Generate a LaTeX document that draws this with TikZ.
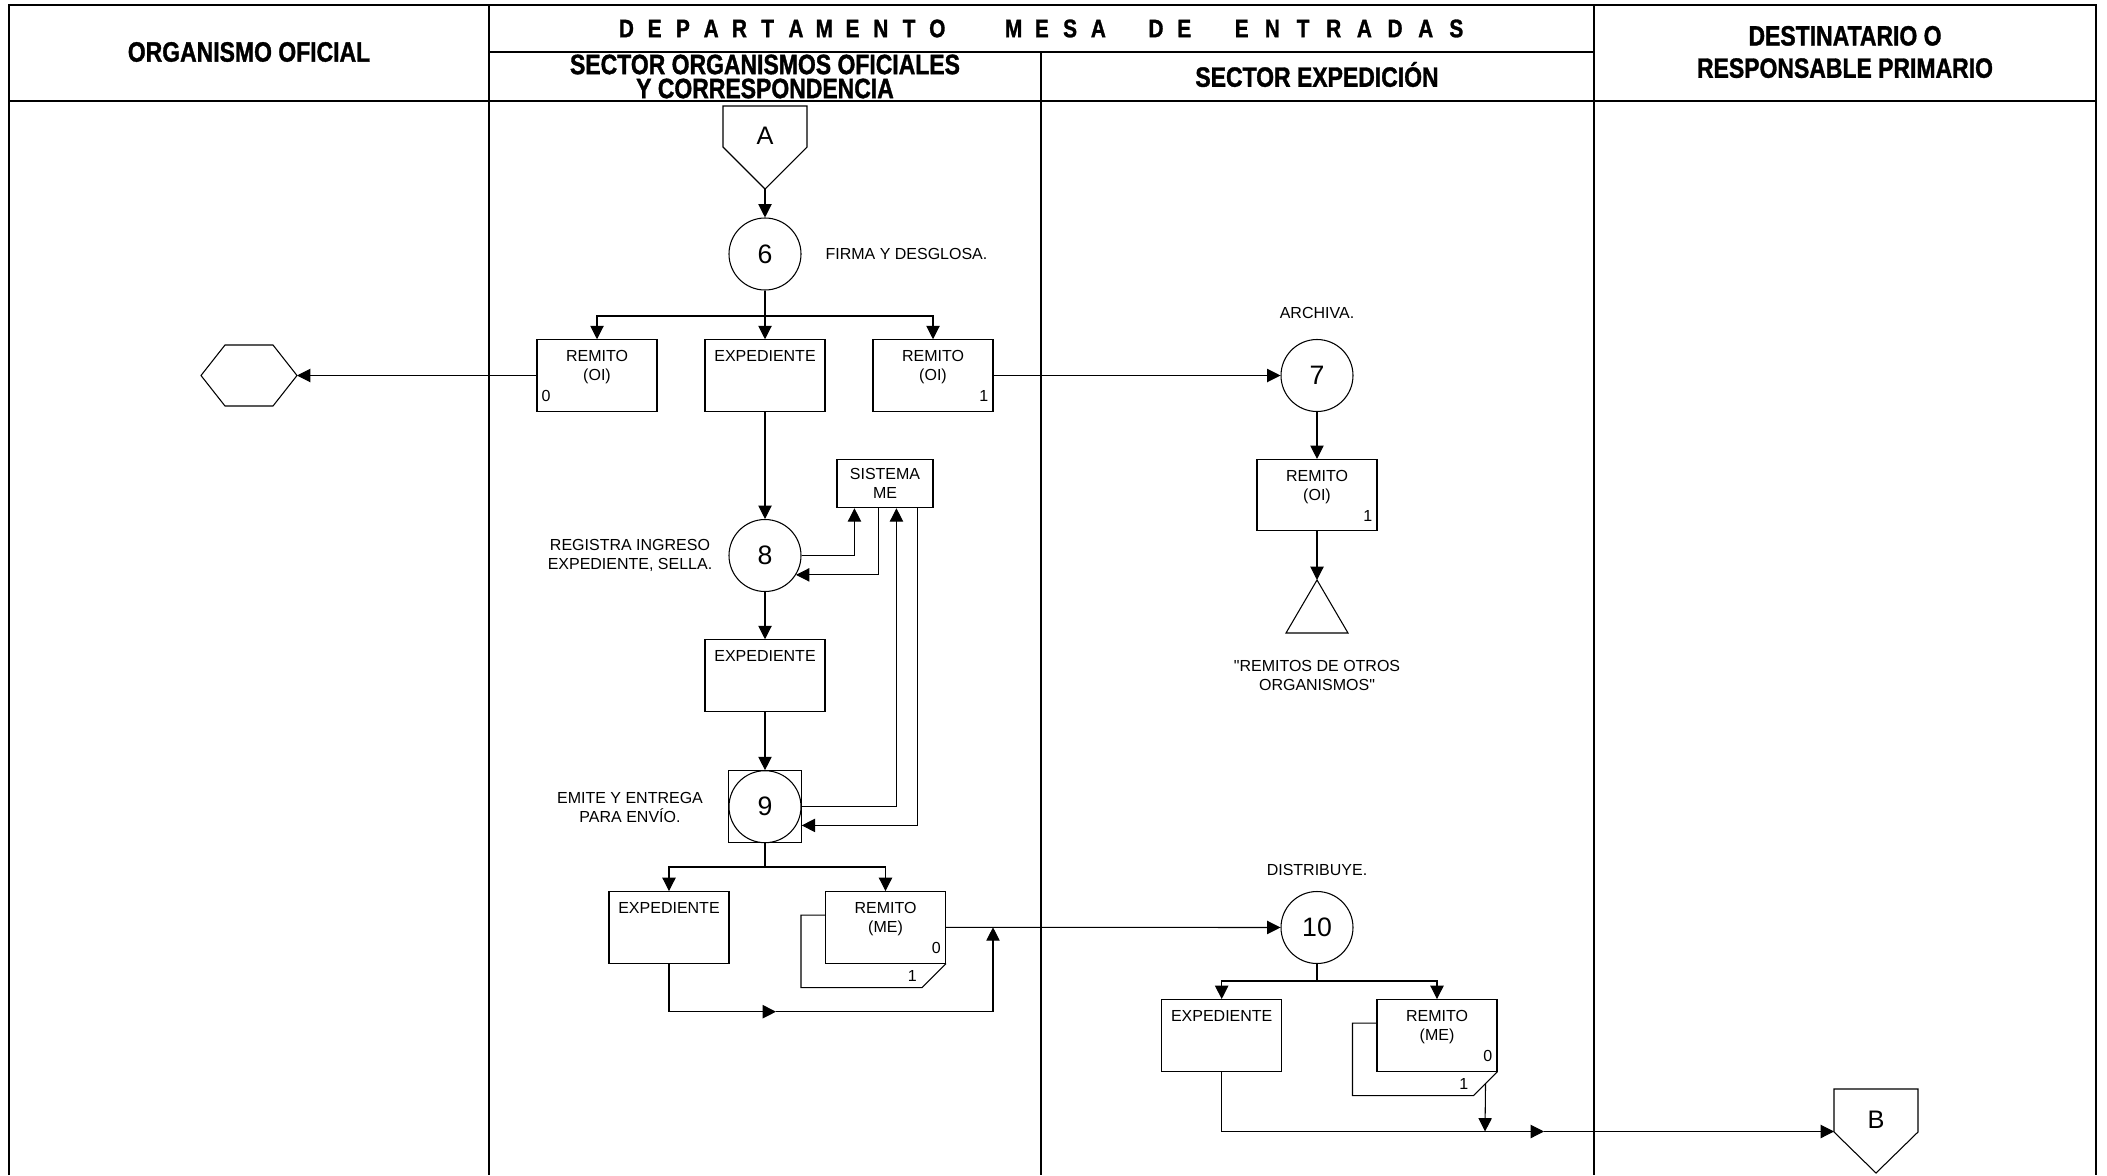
\documentclass[tikz,border=0pt]{standalone}
\usepackage{fontspec}
\setmainfont{Liberation Sans}
\newfontfamily\hdrfont{Liberation Sans}[FakeStretch=0.82,FakeBold=1.2]
\usetikzlibrary{arrows.meta,calc}

\newcommand{\spacedword}[2]{\foreach \c in {#2}{\makebox[#1]{\c}}}

\tikzset{every picture/.style={line width=0.8pt}}
\tikzset{
  lane/.style={line width=1.1pt},
  hdr/.style={font=\hdrfont\bfseries\fontsize{21}{18}\selectfont, align=center, inner sep=0pt},
  txt/.style={font=\fontsize{12}{14.25}\selectfont, align=center, inner sep=0pt},
  doc/.style={draw, minimum width=90pt, minimum height=53.6pt, inner sep=0pt},
  proc/.style={draw, circle, minimum size=54pt, inner sep=0pt, font=\fontsize{20}{20}\selectfont},
  letter/.style={inner sep=0pt, font=\fontsize{19}{19}\selectfont},
  flow/.style={-{Triangle[length=10pt,width=10pt]}},
  doctitle/.style={txt, anchor=north, inner ysep=8pt},
  copynum/.style={txt, inner xsep=3.5pt, inner ysep=7pt},
  backnum/.style={txt, inner xsep=3.5pt, inner ysep=4pt},
}

\begin{document}
\begin{tikzpicture}[x=0.75pt,y=0.75pt,yscale=-1,xscale=1]
\useasboundingbox (0,0) rectangle (2107,1175);

%Shape: lanes and header
\draw[lane] (9,1175) -- (9,5) -- (2096,5) -- (2096,1175);
\draw[lane] (9,101) -- (2096,101);
\draw[lane] (489,52) -- (1594,52);
\draw[lane] (489,5) -- (489,1175);
\draw[lane] (1041,52) -- (1041,1175);
\draw[lane] (1594,5) -- (1594,1175);

% Text Node
\node[hdr] (hOrg) at (249,52) {ORGANISMO OFICIAL};
\node[hdr, font=\hdrfont\bfseries\fontsize{19}{18}\selectfont] (hDept) at (1042,28.5) {\spacedword{21.2pt}{D,E,P,A,R,T,A,M,E,N,T,O}\hspace{36pt}\spacedword{21.2pt}{M,E,S,A}\hspace{22pt}\spacedword{21.2pt}{D,E}\hspace{21pt}\spacedword{23pt}{E,N,T,R,A,D,A,S}};
\node[hdr] (hSecA) at (765,76.5) {SECTOR ORGANISMOS OFICIALES\\Y CORRESPONDENCIA};
\node[hdr] (hSecB) at (1317,74.5) {SECTOR EXPEDICIÓN};
\node[hdr, font=\hdrfont\bfseries\fontsize{21}{24.2}\selectfont] (hDest) at (1845,52) {DESTINATARIO O\\RESPONSABLE PRIMARIO};

%Shape: connector A
\draw (723,106) -- (807,106) -- (807,147) -- (765,189) -- (723,147) -- cycle;
\node[letter] (conA) at (765,136) {A};
\coordinate (conAtip) at (765,189);

%Shape: connector B
\draw (1834,1089) -- (1918,1089) -- (1918,1132) -- (1876,1173) -- (1834,1132) -- cycle;
\node[letter] (conB) at (1876,1120) {B};
\coordinate (conBin) at (1834,1131.5);

%Shape: hexagon
\draw (201,375.5) -- (225,345) -- (273,345) -- (297,375.5) -- (273,406) -- (225,406) -- cycle;
\coordinate (hexR) at (297,375.5);

%Shape: triangle
\draw (1317,580) -- (1348,633) -- (1286,633) -- cycle;
\coordinate (triTop) at (1317,580);

% processes
\node[proc] (p6) at (765,254) {6};
\node[proc] (p7) at (1317,375.5) {7};
\node[proc] (p8) at (765,555.5) {8};
\node[draw, minimum size=54.3pt, inner sep=0pt] (sq9) at (765,806.7) {};
\node[proc] (p9) at (765,806.7) {9};
\node[proc] (p10) at (1317,927.5) {10};

% documents
\node[doc, label={[doctitle]north:{REMITO\\(OI)}}, label={[copynum,anchor=south west]south west:0}] (remOIa) at (597,375.5) {};
\node[doc, label={[doctitle]north:EXPEDIENTE}] (expA) at (765,375.5) {};
\node[doc, label={[doctitle]north:{REMITO\\(OI)}}, label={[copynum,anchor=south east]south east:1}] (remOIb) at (933,375.5) {};
\node[doc, label={[doctitle]north:{REMITO\\(OI)}}, label={[copynum,anchor=south east]south east:1}] (remOIc) at (1317,495.2) {};
\node[draw, minimum width=72pt, minimum height=36.5pt, inner sep=0pt, txt] (sisME) at (885,483.4) {SISTEMA\\ME};
\node[doc, label={[doctitle]north:EXPEDIENTE}] (expB) at (765,675.5) {};
\node[doc, label={[doctitle]north:EXPEDIENTE}] (expC) at (669,927.3) {};
\node[doc, label={[doctitle]north:{REMITO\\(ME)}}, label={[copynum,anchor=south east]south east:0}] (remMEa) at (885.5,927.3) {};
\node[doc, label={[doctitle]north:EXPEDIENTE}] (expD) at (1221.7,1035.3) {};
\node[doc, label={[doctitle]north:{REMITO\\(ME)}}, label={[copynum,anchor=south east]south east:0}] (remMEb) at (1437,1035.3) {};

%Shape: second copies
\draw ($(remMEa.north west)+(0,24)$) -- ++(-24,0) |- ($(remMEa.south east)+(-24,24)$) -- (remMEa.south east);
\node[backnum, anchor=south east] (cpyA) at ($(remMEa.south east)+(-24,24)$) {1};
\draw ($(remMEb.north west)+(0,24)$) -- ++(-24,0) |- ($(remMEb.south east)+(-24,24)$) -- (remMEb.south east);
\node[backnum, anchor=south east] (cpyB) at ($(remMEb.south east)+(-24,24)$) {1};

% Text Node
\node[txt, anchor=west] (t6) at (825,254) {FIRMA Y DESGLOSA.};
\node[txt] (t7) at (1317,313) {ARCHIVA.};
\node[txt] (t8) at (630,555.5) {REGISTRA INGRESO\\EXPEDIENTE, SELLA.};
\node[txt] (t9) at (630,807) {EMITE Y ENTREGA\\PARA ENVÍO.};
\node[txt] (tArch) at (1317,675) {\textquotedbl REMITOS DE OTROS\\ORGANISMOS\textquotedbl};
\node[txt] (t10) at (1317,870) {DISTRIBUYE.};

% flows
\draw[flow] (conAtip) -- (p6);
\draw (p6) -- (765,316) coordinate (br1);
\draw[flow] (br1) -| (remOIa);
\draw[flow] (br1) -- (expA);
\draw[flow] (br1) -| (remOIb);
\draw[flow] (remOIa) -- (hexR);
\draw[flow] (remOIb) -- (p7);
\draw[flow] (p7) -- (remOIc);
\draw[flow] (remOIc) -- (triTop);
\draw[flow] (expA) -- (p8);
\draw[flow] (p8.east) -| ($(sisME.south west)+(18,0)$);
\draw[flow] ($(sisME.south west)+(42,0)$) |- (p8.-32);
\draw[flow] (p8) -- (expB);
\draw[flow] (expB) -- (p9);
\draw[flow] (p9.east) -| ($(sisME.south west)+(60,0)$);
\draw[flow] ($(sisME.south west)+(81,0)$) |- (sq9.-27);
\draw (sq9) -- (765,867) coordinate (br2);
\draw[flow] (br2) -| (expC);
\draw[flow] (br2) -| (remMEa);
\draw[flow] (remMEa) -- (p10);
\coordinate (m1) at (776,1011.7);
\coordinate (j1) at (993,927.3);
\draw[flow] (expC) |- (m1);
\draw[flow] (m1) -| (j1);
\draw (p10) -- (1317,981) coordinate (br3);
\draw[flow] (br3) -| (expD);
\draw[flow] (br3) -| (remMEb);
\coordinate (m2) at (1544,1131.5);
\coordinate (j2) at (1485,1131.5);
\draw[flow] (expD) |- (m2);
\draw[flow] (m2) -- (conBin);
\draw[flow] ($(remMEb.south east)+(-12,12)$) -- (j2);

\end{tikzpicture}
\end{document}
